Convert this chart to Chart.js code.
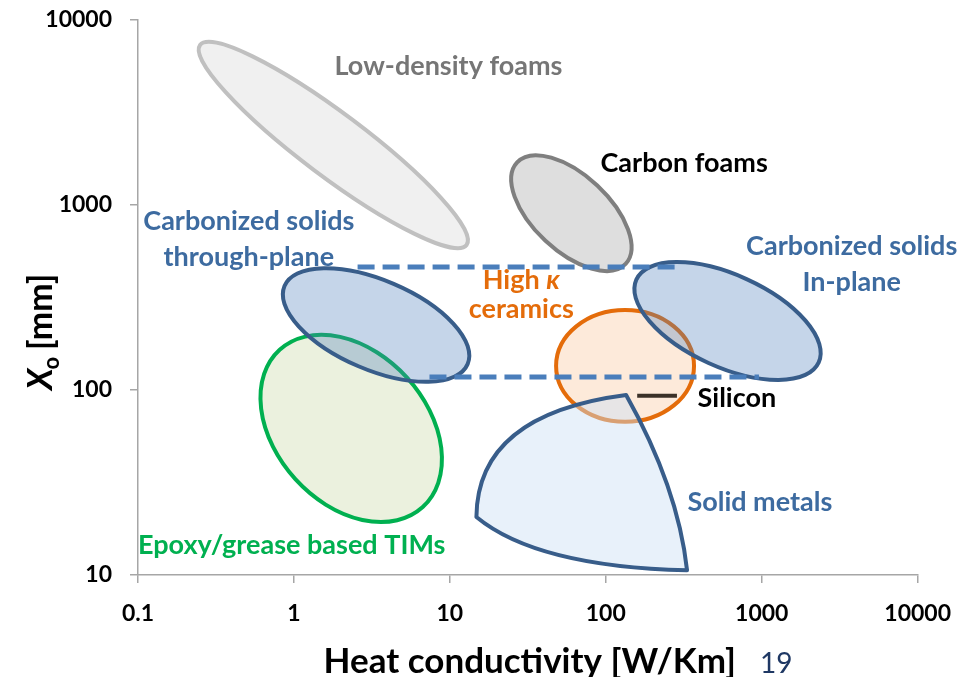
<!DOCTYPE html>
<html>
<head>
<meta charset="utf-8">
<script src="https://cdn.jsdelivr.net/npm/chart.js@4.4.1/dist/chart.umd.min.js"></script>
<style>
  html, body { margin: 0; padding: 0; background: #fff; }
  #wrap { width: 968px; height: 677px; position: relative; }
</style>
</head>
<body>
<div id="wrap"><canvas id="ashby-chart"></canvas></div>
<script>
const xTicks = [0.1, 1, 10, 100, 1000, 10000];
const xTickLabels = ['0.1', '1', '10', '100', '1000', '10000'];
const yTicks = [10, 100, 1000, 10000];
const yTickLabels = ['10', '100', '1000', '10000'];

// material regions (ellipses), given by both ends of the long axis
const regionNames = ['Low-density foams', 'Carbon foams', 'Epoxy/grease based TIMs',
  'Carbonized solids through-plane', 'High k ceramics', 'Carbonized solids In-plane'];
const regionKFrom = [0.25, 27, 0.81, 0.87, 48, 157];
const regionKTo = [12.8, 134, 6.7, 13, 368, 2320];
const regionXoFrom = [7330, 1700, 165, 365, 135, 395];
const regionXoTo = [608, 480, 23.3, 138, 135, 141];
const regionWidth = [0.19, 0.51, 0.71, 0.45, 0.81, 0.46];

// solid metals: corner, bulge, corner, bulge, corner, bulge
const metalsK = [135, 15, 14.8, 36, 332, 291];
const metalsXo = [94, 74, 20.6, 11.1, 10.6, 29.7];

// dashed bounds of carbonized solids + silicon bar
const upperBoundK = [2.56, 308];
const upperBoundXo = [462, 462];
const lowerBoundK = [7.4, 960];
const lowerBoundXo = [117.5, 117.5];
const siliconK = [159, 286];
const siliconXo = [93, 93];

const regionStyles = [
  { fill: '#f0f0f0', stroke: '#c0c0c0' },
  { fill: '#dedede', stroke: '#7f7f7f' },
  { fill: '#ebf1de', stroke: '#00b050' },
  { fill: 'rgba(79,129,189,0.33)', stroke: '#385d8a' },
  { fill: '#fdeada', stroke: '#e46c0a' },
  { fill: 'rgba(79,129,189,0.33)', stroke: '#385d8a' }
];

const labels = [
  { lines: ['Low-density foams'], k: 9.8, xo: 5640, color: '#767676' },
  { lines: ['Carbon foams'], k: 318, xo: 1687, color: '#000000' },
  { lines: ['Carbonized solids', 'through-plane'], k: 0.514, xo: 655, color: '#3d6ba0', gap: 36 },
  { lines: ['Carbonized solids', 'In-plane'], k: 3776, xo: 480, color: '#3d6ba0', gap: 36 },
  { lines: ['High κ', 'ceramics'], k: 28.7, xo: 326, color: '#e46c0a', gap: 29 },
  { lines: ['Silicon'], k: 693, xo: 90.6, color: '#000000' },
  { lines: ['Solid metals'], k: 973, xo: 24.8, color: '#3d6ba0' },
  { lines: ['Epoxy/grease based TIMs'], k: 0.968, xo: 14.5, color: '#00b050' }
];

const toPoints = (ks, xos) => ks.map((k, i) => ({ x: k, y: xos[i] }));

const regionsPlugin = {
  id: 'regions',
  beforeDatasetsDraw(chart) {
    const ctx = chart.ctx;
    const xs = chart.scales.x, ys = chart.scales.y;
    ctx.save();
    ctx.lineWidth = 4;
    regionNames.forEach((name, i) => {
      const x1 = xs.getPixelForValue(regionKFrom[i]), y1 = ys.getPixelForValue(regionXoFrom[i]);
      const x2 = xs.getPixelForValue(regionKTo[i]), y2 = ys.getPixelForValue(regionXoTo[i]);
      const a = Math.hypot(x2 - x1, y2 - y1) / 2;
      ctx.beginPath();
      ctx.ellipse((x1 + x2) / 2, (y1 + y2) / 2, a, a * regionWidth[i], Math.atan2(y2 - y1, x2 - x1), 0, Math.PI * 2);
      ctx.fillStyle = regionStyles[i].fill;
      ctx.fill();
      ctx.strokeStyle = regionStyles[i].stroke;
      ctx.stroke();
    });
    // solid metals
    const p = metalsK.map((k, i) => [xs.getPixelForValue(k), ys.getPixelForValue(metalsXo[i])]);
    ctx.beginPath();
    ctx.moveTo(p[0][0], p[0][1]);
    ctx.quadraticCurveTo(p[1][0], p[1][1], p[2][0], p[2][1]);
    ctx.quadraticCurveTo(p[3][0], p[3][1], p[4][0], p[4][1]);
    ctx.quadraticCurveTo(p[5][0], p[5][1], p[0][0], p[0][1]);
    ctx.closePath();
    ctx.fillStyle = 'rgba(205,224,243,0.45)';
    ctx.fill();
    ctx.strokeStyle = '#385d8a';
    ctx.lineJoin = 'round';
    ctx.stroke();
    ctx.restore();
  },
  afterDatasetsDraw(chart) {
    const ctx = chart.ctx;
    const xs = chart.scales.x, ys = chart.scales.y;
    ctx.save();
    ctx.textAlign = 'center';
    ctx.textBaseline = 'middle';
    labels.forEach(l => {
      const cx = xs.getPixelForValue(l.k), cy = ys.getPixelForValue(l.xo);
      const gap = l.gap || 0;
      l.lines.forEach((line, j) => {
        const y = cy + (j - (l.lines.length - 1) / 2) * gap;
        ctx.fillStyle = l.color;
        if (line.includes('κ')) {
          const head = line.replace('κ', '');
          ctx.font = 'bold 27px Lato';
          const w1 = ctx.measureText(head).width;
          ctx.font = 'italic bold 27px Lato';
          const w2 = ctx.measureText('κ').width;
          ctx.textAlign = 'left';
          ctx.font = 'bold 27px Lato';
          ctx.fillText(head, cx - (w1 + w2) / 2, y);
          ctx.font = 'italic bold 27px Lato';
          ctx.fillText('κ', cx - (w1 + w2) / 2 + w1, y);
          ctx.textAlign = 'center';
        } else {
          ctx.font = 'bold 27px Lato';
          ctx.fillText(line, cx, y);
        }
      });
    });

    // axis titles
    const area = chart.chartArea;
    ctx.textBaseline = 'alphabetic';
    ctx.fillStyle = '#000';
    ctx.font = 'bold 35px Lato';
    ctx.textAlign = 'center';
    ctx.fillText('Heat conductivity [W/Km]', (area.left + area.right) / 2 + 2, 673);
    ctx.font = '28px Lato';
    ctx.fillStyle = '#1f3864';
    ctx.textAlign = 'left';
    ctx.fillText('19', 760, 673);

    ctx.translate(52, 390);
    ctx.rotate(-Math.PI / 2);
    ctx.fillStyle = '#000';
    ctx.font = 'italic bold 34px Lato';
    ctx.fillText('X', 0, 0);
    let w = ctx.measureText('X').width;
    ctx.font = 'bold 22px Lato';
    ctx.fillText('o', w - 1, 7);
    w += ctx.measureText('o').width + 6;
    ctx.font = 'bold 34px Lato';
    ctx.fillText('[mm]', w, 0);
    ctx.restore();
  }
};

Chart.defaults.font.family = 'Lato';

const ctx = document.getElementById('ashby-chart').getContext('2d');
const ashbyChart = new Chart(ctx, {
  type: 'scatter',
  data: {
    datasets: [
      {
        label: 'upper bound',
        data: toPoints(upperBoundK, upperBoundXo),
        showLine: true,
        borderColor: '#4a7ebb',
        borderWidth: 5,
        borderDash: [17, 8],
        pointRadius: 0
      },
      {
        label: 'lower bound',
        data: toPoints(lowerBoundK, lowerBoundXo),
        showLine: true,
        borderColor: '#4a7ebb',
        borderWidth: 5,
        borderDash: [17, 8],
        pointRadius: 0
      },
      {
        label: 'Silicon',
        data: toPoints(siliconK, siliconXo),
        showLine: true,
        borderColor: '#3b3128',
        borderWidth: 4,
        pointRadius: 0
      }
    ]
  },
  options: {
    responsive: true,
    maintainAspectRatio: false,
    animation: false,
    layout: { padding: { left: 0, right: 49, top: 20, bottom: 0 } },
    plugins: {
      legend: { display: false },
      tooltip: { enabled: false }
    },
    scales: {
      x: {
        type: 'logarithmic',
        min: 0.1,
        max: 10000,
        afterBuildTicks: s => { s.ticks = xTicks.map(v => ({ value: v })); },
        afterFit: s => { s.height = 102; },
        ticks: {
          callback: v => xTickLabels[xTicks.indexOf(v)],
          font: { size: 23, weight: 'bold' },
          color: '#000',
          padding: 17,
          maxRotation: 0,
          autoSkip: false
        },
        grid: { drawOnChartArea: false, tickLength: 8, color: '#a6a6a6', lineWidth: 1.5 },
        border: { color: '#a6a6a6', width: 1.5 }
      },
      y: {
        type: 'logarithmic',
        min: 10,
        max: 10000,
        afterBuildTicks: s => { s.ticks = yTicks.map(v => ({ value: v })); },
        afterFit: s => {
          s.width = 138;
          s.paddingTop = 0;
          s.paddingBottom = 0;
        },
        ticks: {
          callback: v => yTickLabels[yTicks.indexOf(v)],
          font: { size: 23, weight: 'bold' },
          color: '#000',
          padding: 18,
          autoSkip: false
        },
        grid: { drawOnChartArea: false, tickLength: 8, color: '#a6a6a6', lineWidth: 1.5 },
        border: { color: '#a6a6a6', width: 1.5 }
      }
    }
  },
  plugins: [regionsPlugin]
});
</script>
</body>
</html>
